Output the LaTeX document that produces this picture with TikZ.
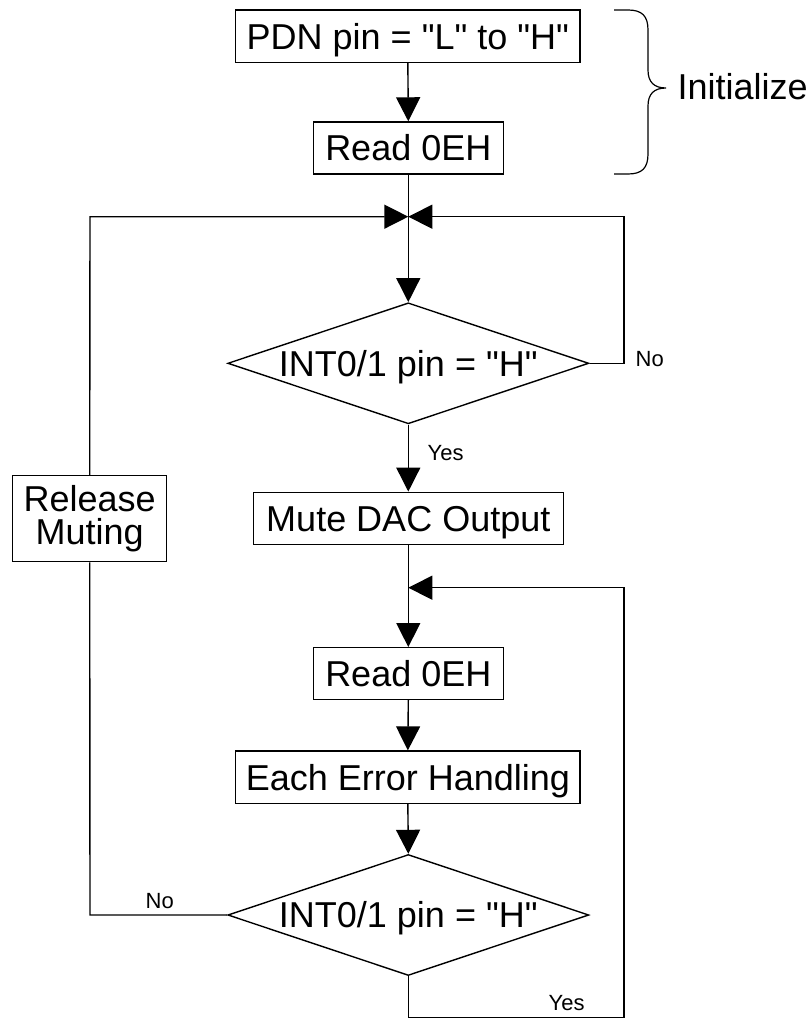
\documentclass[tikz,border=0pt]{standalone}
\usepackage{fontspec}
\setmainfont{Liberation Sans}[Ligatures=TeXOff]
\usetikzlibrary{arrows.meta,shapes.geometric}
\begin{document}
\begin{tikzpicture}[x=1pt,y=-1pt,
  line width=1.4pt,
  bigtext/.style={font=\fontsize{36}{30}\selectfont},
  smalltext/.style={font=\fontsize{22}{24}\selectfont, inner sep=0pt},
  procbox/.style={draw, rectangle, bigtext, inner sep=0pt, text height=25.8pt, text depth=0pt},
  decbox/.style={draw, diamond, aspect=3, bigtext, inner sep=0pt, minimum width=361pt, minimum height=121pt, text height=25.8pt, text depth=0pt},
  arr/.style={-{Triangle[length=24pt,width=24pt]}}
]
\useasboundingbox (0,0) rectangle (809,1019);

% nodes
\node[procbox, minimum width=344.3pt, minimum height=52.3pt] (pdn) at (407.85,36.15) {PDN pin = "L" to "H"};
\node[procbox, minimum width=190pt, minimum height=52pt] (read1) at (408.3,148) {Read 0EH};
\node[decbox] (d1) at (408.3,363.3) {INT0/1 pin = "H"};
\node[procbox, minimum width=310pt, minimum height=52pt] (mute) at (408.3,518.3) {Mute DAC Output};
\node[procbox, minimum width=190pt, minimum height=51.6pt] (read2) at (408.3,673.5) {Read 0EH};
\node[procbox, minimum width=344.3pt, minimum height=52.3pt] (each) at (407.85,777.2) {Each Error Handling};
\node[decbox] (d2) at (408.3,915) {INT0/1 pin = "H"};
\node[draw, rectangle, font=\fontsize{36}{33}\selectfont, align=center, inner sep=0pt, minimum width=154pt, minimum height=86pt] (rel) at (89.7,518.7) {Release\\Muting};

\node[bigtext, anchor=base west, inner sep=0pt] (init) at (677,100) {Initialize};

% junctions
\coordinate (m1) at (408.3,216.7);
\coordinate (m2) at (408.3,587.7);
\coordinate (c1) at (624,363.3);
\coordinate (c2) at (624,216.7);
\coordinate (c3) at (90,216.7);
\coordinate (c4) at (90,915);
\coordinate (c5) at (408.3,1017.2);
\coordinate (c6) at (624,1017.2);
\coordinate (c7) at (624,587.7);

% connectors
\draw[arr] (pdn.south) -- (read1.north);
\draw[arr] (read1.south) -- (d1.north);
\draw[arr] (d1.east) -- (c1) -- (c2) -- (m1);
\draw[arr] (rel.north) -- (c3) -- (m1);
\draw[arr] (d1.south) -- (mute.north);
\draw[arr] (mute.south) -- (read2.north);
\draw[arr] (read2.south) -- (each.north);
\draw[arr] (each.south) -- (d2.north);
\draw (d2.west) -- (c4) -- (rel.south);
\draw[arr] (d2.south) -- (c5) -- (c6) -- (c7) -- (m2);

% labels
\node[smalltext, anchor=base west] (no1) at (635,366) {No};
\node[smalltext, anchor=base west] (yes1) at (427,460) {Yes};
\node[smalltext, anchor=base west] (no2) at (145,908.3) {No};
\node[smalltext, anchor=base west] (yes2) at (548,1010.5) {Yes};

% brace
\draw[line width=1.2pt] (614,10) -- (628,10) .. controls (642,10) and (648,16) .. (648,30)
  -- (648,70) .. controls (648,82) and (654,88) .. (666,88)
  .. controls (654,88) and (648,94) .. (648,106)
  -- (648,154) .. controls (648,168) and (642,174) .. (628,174) -- (614,174);
\end{tikzpicture}
\end{document}
